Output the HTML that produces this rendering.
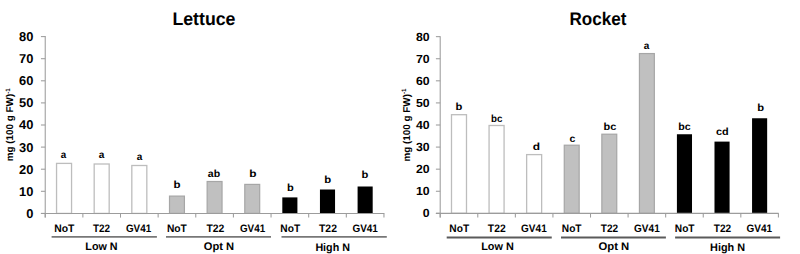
<!DOCTYPE html>
<html><head><meta charset="utf-8"><style>
html,body{margin:0;padding:0;background:#fff;}
body{width:800px;height:254px;overflow:hidden;}
svg{display:block;font-family:"Liberation Sans", sans-serif;}
text{fill:#000;text-rendering:geometricPrecision;}
</style></head><body>
<svg width="800" height="254" viewBox="0 0 800 254">
<rect x="0" y="0" width="800" height="254" fill="#fff"/>
<line x1="45.23" y1="36.1" x2="45.23" y2="217.6" stroke="#9c9c9c" stroke-width="1.05"/>
<line x1="40.93" y1="36.60" x2="45.23" y2="36.60" stroke="#9c9c9c" stroke-width="1.05"/>
<line x1="40.93" y1="58.70" x2="45.23" y2="58.70" stroke="#9c9c9c" stroke-width="1.05"/>
<line x1="40.93" y1="80.80" x2="45.23" y2="80.80" stroke="#9c9c9c" stroke-width="1.05"/>
<line x1="40.93" y1="102.90" x2="45.23" y2="102.90" stroke="#9c9c9c" stroke-width="1.05"/>
<line x1="40.93" y1="125.00" x2="45.23" y2="125.00" stroke="#9c9c9c" stroke-width="1.05"/>
<line x1="40.93" y1="147.10" x2="45.23" y2="147.10" stroke="#9c9c9c" stroke-width="1.05"/>
<line x1="40.93" y1="169.20" x2="45.23" y2="169.20" stroke="#9c9c9c" stroke-width="1.05"/>
<line x1="40.93" y1="191.30" x2="45.23" y2="191.30" stroke="#9c9c9c" stroke-width="1.05"/>
<line x1="40.93" y1="213.40" x2="45.23" y2="213.40" stroke="#9c9c9c" stroke-width="1.05"/>
<rect x="56.55" y="163.40" width="15.0" height="50.00" fill="#fff" stroke="#bdbdbd" stroke-width="1.3"/>
<rect x="94.18" y="164.00" width="15.0" height="49.40" fill="#fff" stroke="#bdbdbd" stroke-width="1.3"/>
<rect x="131.82" y="165.50" width="15.0" height="47.90" fill="#fff" stroke="#bdbdbd" stroke-width="1.3"/>
<rect x="169.51" y="196.10" width="14.9" height="17.30" fill="#c0c0c0" stroke="#a6a6a6" stroke-width="1.2"/>
<rect x="207.14" y="181.50" width="14.9" height="31.90" fill="#c0c0c0" stroke="#a6a6a6" stroke-width="1.2"/>
<rect x="244.78" y="184.40" width="14.9" height="29.00" fill="#c0c0c0" stroke="#a6a6a6" stroke-width="1.2"/>
<rect x="282.31" y="197.40" width="15.1" height="16.00" fill="#000"/>
<rect x="319.95" y="189.50" width="15.1" height="23.90" fill="#000"/>
<rect x="357.59" y="186.50" width="15.1" height="26.90" fill="#000"/>
<line x1="40.93" y1="213.4" x2="384.4" y2="213.4" stroke="#9c9c9c" stroke-width="1.05"/>
<line x1="45.23" y1="213.4" x2="45.23" y2="217.6" stroke="#9c9c9c" stroke-width="1.05"/>
<line x1="82.87" y1="213.4" x2="82.87" y2="217.6" stroke="#9c9c9c" stroke-width="1.05"/>
<line x1="120.50" y1="213.4" x2="120.50" y2="217.6" stroke="#9c9c9c" stroke-width="1.05"/>
<line x1="158.14" y1="213.4" x2="158.14" y2="217.6" stroke="#9c9c9c" stroke-width="1.05"/>
<line x1="195.77" y1="213.4" x2="195.77" y2="217.6" stroke="#9c9c9c" stroke-width="1.05"/>
<line x1="233.41" y1="213.4" x2="233.41" y2="217.6" stroke="#9c9c9c" stroke-width="1.05"/>
<line x1="271.05" y1="213.4" x2="271.05" y2="217.6" stroke="#9c9c9c" stroke-width="1.05"/>
<line x1="308.68" y1="213.4" x2="308.68" y2="217.6" stroke="#9c9c9c" stroke-width="1.05"/>
<line x1="346.32" y1="213.4" x2="346.32" y2="217.6" stroke="#9c9c9c" stroke-width="1.05"/>
<line x1="383.95" y1="213.4" x2="383.95" y2="217.6" stroke="#9c9c9c" stroke-width="1.05"/>
<line x1="51.6" y1="236.85" x2="156.9" y2="236.85" stroke="#777" stroke-width="1.9"/>
<line x1="166" y1="236.85" x2="271" y2="236.85" stroke="#777" stroke-width="1.9"/>
<line x1="281.5" y1="236.85" x2="386.8" y2="236.85" stroke="#777" stroke-width="1.9"/>
<text transform="translate(13.3,161.3) rotate(-90)" x="0" y="0" font-size="9.9" font-weight="bold">mg (100 g FW)<tspan font-size="6.4" dy="-3.8">-1</tspan></text>
<line x1="440.2" y1="36.15" x2="440.2" y2="217.54999999999998" stroke="#9c9c9c" stroke-width="1.05"/>
<line x1="435.9" y1="36.65" x2="440.2" y2="36.65" stroke="#9c9c9c" stroke-width="1.05"/>
<line x1="435.9" y1="58.74" x2="440.2" y2="58.74" stroke="#9c9c9c" stroke-width="1.05"/>
<line x1="435.9" y1="80.82" x2="440.2" y2="80.82" stroke="#9c9c9c" stroke-width="1.05"/>
<line x1="435.9" y1="102.91" x2="440.2" y2="102.91" stroke="#9c9c9c" stroke-width="1.05"/>
<line x1="435.9" y1="125.00" x2="440.2" y2="125.00" stroke="#9c9c9c" stroke-width="1.05"/>
<line x1="435.9" y1="147.09" x2="440.2" y2="147.09" stroke="#9c9c9c" stroke-width="1.05"/>
<line x1="435.9" y1="169.17" x2="440.2" y2="169.17" stroke="#9c9c9c" stroke-width="1.05"/>
<line x1="435.9" y1="191.26" x2="440.2" y2="191.26" stroke="#9c9c9c" stroke-width="1.05"/>
<line x1="435.9" y1="213.35" x2="440.2" y2="213.35" stroke="#9c9c9c" stroke-width="1.05"/>
<rect x="451.49" y="114.70" width="15.0" height="98.65" fill="#fff" stroke="#bdbdbd" stroke-width="1.3"/>
<rect x="489.07" y="125.50" width="15.0" height="87.85" fill="#fff" stroke="#bdbdbd" stroke-width="1.3"/>
<rect x="526.64" y="154.60" width="15.0" height="58.75" fill="#fff" stroke="#bdbdbd" stroke-width="1.3"/>
<rect x="564.27" y="145.20" width="14.9" height="68.15" fill="#c0c0c0" stroke="#a6a6a6" stroke-width="1.2"/>
<rect x="601.85" y="134.20" width="14.9" height="79.15" fill="#c0c0c0" stroke="#a6a6a6" stroke-width="1.2"/>
<rect x="639.43" y="53.56" width="14.9" height="159.79" fill="#c0c0c0" stroke="#a6a6a6" stroke-width="1.2"/>
<rect x="676.91" y="134.25" width="15.1" height="79.10" fill="#000"/>
<rect x="714.49" y="141.60" width="15.1" height="71.75" fill="#000"/>
<rect x="752.06" y="118.25" width="15.1" height="95.10" fill="#000"/>
<line x1="435.9" y1="213.35" x2="778.7" y2="213.35" stroke="#9c9c9c" stroke-width="1.05"/>
<line x1="440.20" y1="213.35" x2="440.20" y2="217.54999999999998" stroke="#9c9c9c" stroke-width="1.05"/>
<line x1="477.78" y1="213.35" x2="477.78" y2="217.54999999999998" stroke="#9c9c9c" stroke-width="1.05"/>
<line x1="515.36" y1="213.35" x2="515.36" y2="217.54999999999998" stroke="#9c9c9c" stroke-width="1.05"/>
<line x1="552.93" y1="213.35" x2="552.93" y2="217.54999999999998" stroke="#9c9c9c" stroke-width="1.05"/>
<line x1="590.51" y1="213.35" x2="590.51" y2="217.54999999999998" stroke="#9c9c9c" stroke-width="1.05"/>
<line x1="628.09" y1="213.35" x2="628.09" y2="217.54999999999998" stroke="#9c9c9c" stroke-width="1.05"/>
<line x1="665.67" y1="213.35" x2="665.67" y2="217.54999999999998" stroke="#9c9c9c" stroke-width="1.05"/>
<line x1="703.25" y1="213.35" x2="703.25" y2="217.54999999999998" stroke="#9c9c9c" stroke-width="1.05"/>
<line x1="740.82" y1="213.35" x2="740.82" y2="217.54999999999998" stroke="#9c9c9c" stroke-width="1.05"/>
<line x1="778.40" y1="213.35" x2="778.40" y2="217.54999999999998" stroke="#9c9c9c" stroke-width="1.05"/>
<line x1="446.7" y1="237.45" x2="551.75" y2="237.45" stroke="#5a5a5a" stroke-width="2.0"/>
<line x1="561" y1="237.45" x2="665.9" y2="237.45" stroke="#5a5a5a" stroke-width="2.0"/>
<line x1="675.1" y1="237.45" x2="780.1" y2="237.45" stroke="#5a5a5a" stroke-width="2.0"/>
<text transform="translate(410.2,161.5) rotate(-90)" x="0" y="0" font-size="9.9" font-weight="bold">mg (100 g FW)<tspan font-size="6.4" dy="-3.8">-1</tspan></text>
<text x="172.41" y="25.10" font-size="18.30" font-weight="bold" text-anchor="start" textLength="63.03" lengthAdjust="spacingAndGlyphs">Lettuce</text>
<text x="569.56" y="25.10" font-size="18.30" font-weight="bold" text-anchor="start" textLength="56.92" lengthAdjust="spacingAndGlyphs">Rocket</text>
<text x="63.56" y="158.00" font-size="10.30" font-weight="bold" text-anchor="middle" textLength="5.44" lengthAdjust="spacingAndGlyphs">a</text>
<text x="101.48" y="158.00" font-size="10.30" font-weight="bold" text-anchor="middle" textLength="5.61" lengthAdjust="spacingAndGlyphs">a</text>
<text x="139.45" y="160.10" font-size="10.30" font-weight="bold" text-anchor="middle" textLength="5.57" lengthAdjust="spacingAndGlyphs">a</text>
<text x="176.94" y="187.50" font-size="10.30" font-weight="bold" text-anchor="middle" textLength="7.02" lengthAdjust="spacingAndGlyphs">b</text>
<text x="214.03" y="177.40" font-size="10.30" font-weight="bold" text-anchor="middle" textLength="12.30" lengthAdjust="spacingAndGlyphs">ab</text>
<text x="252.90" y="177.40" font-size="10.30" font-weight="bold" text-anchor="middle" textLength="7.26" lengthAdjust="spacingAndGlyphs">b</text>
<text x="290.44" y="191.10" font-size="10.30" font-weight="bold" text-anchor="middle" textLength="6.75" lengthAdjust="spacingAndGlyphs">b</text>
<text x="327.71" y="182.90" font-size="10.30" font-weight="bold" text-anchor="middle" textLength="6.92" lengthAdjust="spacingAndGlyphs">b</text>
<text x="365.05" y="178.20" font-size="10.30" font-weight="bold" text-anchor="middle" textLength="6.84" lengthAdjust="spacingAndGlyphs">b</text>
<text x="459.05" y="110.00" font-size="10.30" font-weight="bold" text-anchor="middle" textLength="6.84" lengthAdjust="spacingAndGlyphs">b</text>
<text x="496.69" y="122.00" font-size="10.30" font-weight="bold" text-anchor="middle" textLength="11.40" lengthAdjust="spacingAndGlyphs">bc</text>
<text x="536.35" y="150.25" font-size="10.30" font-weight="bold" text-anchor="middle" textLength="7.28" lengthAdjust="spacingAndGlyphs">d</text>
<text x="572.55" y="142.25" font-size="10.30" font-weight="bold" text-anchor="middle" textLength="5.84" lengthAdjust="spacingAndGlyphs">c</text>
<text x="609.87" y="130.40" font-size="10.30" font-weight="bold" text-anchor="middle" textLength="12.79" lengthAdjust="spacingAndGlyphs">bc</text>
<text x="646.45" y="48.60" font-size="10.30" font-weight="bold" text-anchor="middle" textLength="5.57" lengthAdjust="spacingAndGlyphs">a</text>
<text x="684.38" y="130.30" font-size="10.30" font-weight="bold" text-anchor="middle" textLength="12.43" lengthAdjust="spacingAndGlyphs">bc</text>
<text x="722.39" y="135.00" font-size="10.30" font-weight="bold" text-anchor="middle" textLength="12.71" lengthAdjust="spacingAndGlyphs">cd</text>
<text x="760.57" y="110.75" font-size="10.30" font-weight="bold" text-anchor="middle" textLength="6.84" lengthAdjust="spacingAndGlyphs">b</text>
<text x="64.36" y="231.50" font-size="10.90" font-weight="bold" text-anchor="middle" textLength="20.16" lengthAdjust="spacingAndGlyphs">NoT</text>
<text x="101.50" y="231.50" font-size="10.90" font-weight="bold" text-anchor="middle" textLength="17.09" lengthAdjust="spacingAndGlyphs">T22</text>
<text x="138.53" y="231.50" font-size="10.90" font-weight="bold" text-anchor="middle" textLength="25.18" lengthAdjust="spacingAndGlyphs">GV41</text>
<text x="176.87" y="231.50" font-size="10.90" font-weight="bold" text-anchor="middle" textLength="19.93" lengthAdjust="spacingAndGlyphs">NoT</text>
<text x="215.41" y="231.50" font-size="10.90" font-weight="bold" text-anchor="middle" textLength="17.92" lengthAdjust="spacingAndGlyphs">T22</text>
<text x="252.53" y="231.50" font-size="10.90" font-weight="bold" text-anchor="middle" textLength="25.18" lengthAdjust="spacingAndGlyphs">GV41</text>
<text x="290.25" y="231.50" font-size="10.90" font-weight="bold" text-anchor="middle" textLength="19.78" lengthAdjust="spacingAndGlyphs">NoT</text>
<text x="327.99" y="231.50" font-size="10.90" font-weight="bold" text-anchor="middle" textLength="17.94" lengthAdjust="spacingAndGlyphs">T22</text>
<text x="365.18" y="231.50" font-size="10.90" font-weight="bold" text-anchor="middle" textLength="25.46" lengthAdjust="spacingAndGlyphs">GV41</text>
<text x="459.25" y="231.50" font-size="10.90" font-weight="bold" text-anchor="middle" textLength="19.78" lengthAdjust="spacingAndGlyphs">NoT</text>
<text x="496.75" y="231.50" font-size="10.90" font-weight="bold" text-anchor="middle" textLength="17.77" lengthAdjust="spacingAndGlyphs">T22</text>
<text x="533.90" y="231.50" font-size="10.90" font-weight="bold" text-anchor="middle" textLength="25.64" lengthAdjust="spacingAndGlyphs">GV41</text>
<text x="571.69" y="231.50" font-size="10.90" font-weight="bold" text-anchor="middle" textLength="19.75" lengthAdjust="spacingAndGlyphs">NoT</text>
<text x="609.53" y="231.50" font-size="10.90" font-weight="bold" text-anchor="middle" textLength="17.39" lengthAdjust="spacingAndGlyphs">T22</text>
<text x="646.90" y="231.50" font-size="10.90" font-weight="bold" text-anchor="middle" textLength="25.64" lengthAdjust="spacingAndGlyphs">GV41</text>
<text x="684.69" y="231.50" font-size="10.90" font-weight="bold" text-anchor="middle" textLength="19.75" lengthAdjust="spacingAndGlyphs">NoT</text>
<text x="722.53" y="231.50" font-size="10.90" font-weight="bold" text-anchor="middle" textLength="17.39" lengthAdjust="spacingAndGlyphs">T22</text>
<text x="759.27" y="231.50" font-size="10.90" font-weight="bold" text-anchor="middle" textLength="25.57" lengthAdjust="spacingAndGlyphs">GV41</text>
<text x="101.49" y="249.90" font-size="11.10" font-weight="bold" text-anchor="middle" textLength="32.30" lengthAdjust="spacingAndGlyphs">Low N</text>
<text x="218.92" y="249.75" font-size="11.10" font-weight="bold" text-anchor="middle" textLength="30.31" lengthAdjust="spacingAndGlyphs">Opt N</text>
<text x="332.65" y="250.90" font-size="11.10" font-weight="bold" text-anchor="middle" textLength="34.55" lengthAdjust="spacingAndGlyphs">High N</text>
<text x="497.55" y="250.10" font-size="11.10" font-weight="bold" text-anchor="middle" textLength="32.61" lengthAdjust="spacingAndGlyphs">Low N</text>
<text x="613.85" y="249.90" font-size="11.10" font-weight="bold" text-anchor="middle" textLength="30.78" lengthAdjust="spacingAndGlyphs">Opt N</text>
<text x="727.54" y="250.75" font-size="11.10" font-weight="bold" text-anchor="middle" textLength="34.90" lengthAdjust="spacingAndGlyphs">High N</text>
<text x="33.36" y="41.10" font-size="12.90" font-weight="bold" text-anchor="end" textLength="14.34" lengthAdjust="spacingAndGlyphs">80</text>
<text x="33.36" y="63.20" font-size="12.90" font-weight="bold" text-anchor="end" textLength="14.34" lengthAdjust="spacingAndGlyphs">70</text>
<text x="33.36" y="85.30" font-size="12.90" font-weight="bold" text-anchor="end" textLength="14.34" lengthAdjust="spacingAndGlyphs">60</text>
<text x="33.36" y="107.40" font-size="12.90" font-weight="bold" text-anchor="end" textLength="14.34" lengthAdjust="spacingAndGlyphs">50</text>
<text x="33.36" y="128.50" font-size="12.90" font-weight="bold" text-anchor="end" textLength="14.34" lengthAdjust="spacingAndGlyphs">40</text>
<text x="33.36" y="151.60" font-size="12.90" font-weight="bold" text-anchor="end" textLength="14.34" lengthAdjust="spacingAndGlyphs">30</text>
<text x="33.36" y="173.70" font-size="12.90" font-weight="bold" text-anchor="end" textLength="14.34" lengthAdjust="spacingAndGlyphs">20</text>
<text x="33.36" y="195.80" font-size="12.90" font-weight="bold" text-anchor="end" textLength="14.34" lengthAdjust="spacingAndGlyphs">10</text>
<text x="33.36" y="217.90" font-size="12.90" font-weight="bold" text-anchor="end" textLength="7.17" lengthAdjust="spacingAndGlyphs">0</text>
<text x="429.57" y="40.85" font-size="11.80" font-weight="bold" text-anchor="end" textLength="13.65" lengthAdjust="spacingAndGlyphs">80</text>
<text x="429.57" y="62.91" font-size="11.80" font-weight="bold" text-anchor="end" textLength="13.65" lengthAdjust="spacingAndGlyphs">70</text>
<text x="429.57" y="84.97" font-size="11.80" font-weight="bold" text-anchor="end" textLength="13.65" lengthAdjust="spacingAndGlyphs">60</text>
<text x="429.57" y="107.04" font-size="11.80" font-weight="bold" text-anchor="end" textLength="13.65" lengthAdjust="spacingAndGlyphs">50</text>
<text x="429.57" y="129.10" font-size="11.80" font-weight="bold" text-anchor="end" textLength="13.65" lengthAdjust="spacingAndGlyphs">40</text>
<text x="429.57" y="151.16" font-size="11.80" font-weight="bold" text-anchor="end" textLength="13.65" lengthAdjust="spacingAndGlyphs">30</text>
<text x="429.57" y="173.22" font-size="11.80" font-weight="bold" text-anchor="end" textLength="13.65" lengthAdjust="spacingAndGlyphs">20</text>
<text x="429.57" y="195.29" font-size="11.80" font-weight="bold" text-anchor="end" textLength="13.65" lengthAdjust="spacingAndGlyphs">10</text>
<text x="429.57" y="217.35" font-size="11.80" font-weight="bold" text-anchor="end" textLength="6.83" lengthAdjust="spacingAndGlyphs">0</text>
</svg>
</body></html>
